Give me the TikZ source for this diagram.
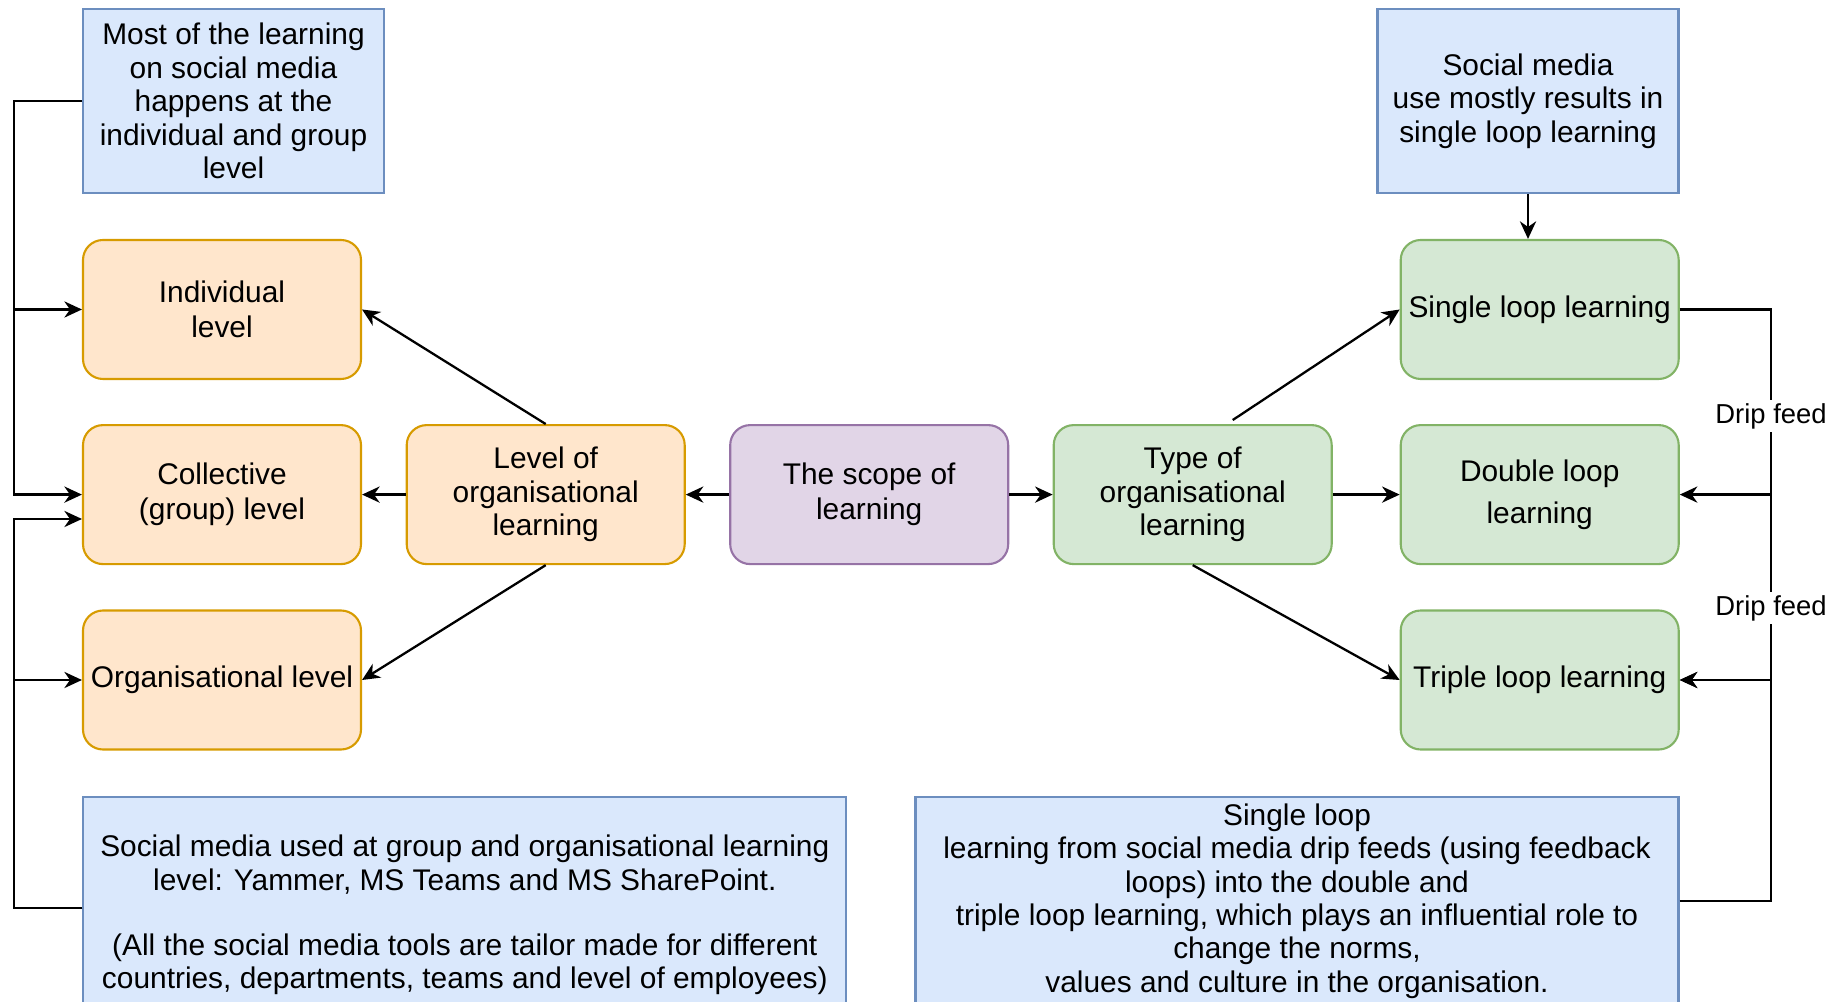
\documentclass[tikz,border=0pt]{standalone}
\usepackage{fontspec}
\setmainfont{Liberation Sans}
\usetikzlibrary{arrows.meta}

\definecolor{NoteFill}{HTML}{DAE8FC}
\definecolor{NoteLine}{HTML}{6C8EBF}
\definecolor{LevelFill}{HTML}{FFE6CC}
\definecolor{LevelLine}{HTML}{D79B00}
\definecolor{ScopeFill}{HTML}{E1D5E7}
\definecolor{ScopeLine}{HTML}{9673A6}
\definecolor{TypeFill}{HTML}{D5E8D4}
\definecolor{TypeLine}{HTML}{82B366}

\begin{document}
\begin{tikzpicture}[x=0.1mm, y=-0.1mm,
  font=\fontsize{8.5pt}{9.5pt}\selectfont,
  note/.style={draw=NoteLine, fill=NoteFill, line width=0.6pt, align=center, inner sep=0pt},
  levelbox/.style={draw=LevelLine, fill=LevelFill, rounded corners=2mm, line width=0.6pt,
    align=center, inner sep=0pt, minimum width=27.8mm, minimum height=13.9mm},
  scopebox/.style={levelbox, draw=ScopeLine, fill=ScopeFill},
  typebox/.style={levelbox, draw=TypeLine, fill=TypeFill},
  dripfeed/.style={fill=white, inner sep=1pt, font=\fontsize{7.8pt}{9pt}\selectfont},
  arr/.style={-{Stealth[length=5pt, width=4.6pt, inset=1.6pt]}, line width=0.65pt}]

 \useasboundingbox (0,0) rectangle (1838,1002);
 \clip (0,0) rectangle (1838,1002);

 %%%%%%%%%% Rails for the side connectors %%%%%%%%%%
 \coordinate (railL) at (14,0);
 \coordinate (railR) at (1771,0);

 %%%%%%%%%% Notes %%%%%%%%%%
 \node[note, minimum width=30.1mm, minimum height=18.4mm] (noteA) at (233.5,101)
   {Most of the learning\\on social media\\happens at the\\individual and group\\level};
 \node[note, minimum width=30.1mm, minimum height=18.4mm] (noteB) at (1528,101)
   {Social media\\use mostly results in\\single loop learning};
 \node[note, minimum width=76.3mm, minimum height=23.6mm] (noteC) at (464.8,915)
   {Social media used at group and organisational learning\\level: Yammer, MS Teams and MS SharePoint.\\[9pt](All the social media tools are tailor made for different\\countries, departments, teams and level of employees)};
 \node[note, minimum width=76.3mm, minimum height=20.8mm] (noteD) at (1297,901)
   {Single loop\\learning from social media drip feeds (using feedback\\loops) into the double and\\triple loop learning, which plays an influential role to\\change the norms,\\values and culture in the organisation.};

 %%%%%%%%%% Levels %%%%%%%%%%
 \node[levelbox] (indiv) at (222,309.5) {Individual\\[0.5pt]level};
 \node[levelbox] (coll) at (222,494.6) {Collective\\[0.5pt](group) level};
 \node[levelbox] (orgl) at (222,680) {Organisational level};
 \node[levelbox] (level) at (545.7,494.6) {Level of\\organisational\\learning};

 % Scope
 \node[scopebox] (scope) at (869.2,494.6) {The scope of\\[0.5pt]learning};

 %%%%%%%%%% Types %%%%%%%%%%
 \node[typebox] (type) at (1192.7,494.6) {Type of\\organisational\\learning};
 \node[typebox] (single) at (1539.7,309.5) {Single loop learning};
 \node[typebox] (double) at (1539.7,494.6) {Double loop\\[2.5pt]learning};
 \node[typebox] (triple) at (1539.7,680) {Triple loop learning};

 %%%%%%%%%% Connectors %%%%%%%%%%
 % left side
 \draw[arr] (noteA.west) -- (noteA.west -| railL) |- (indiv.west);
 \draw[arr] (noteA.west) -- (noteA.west -| railL) |- (coll.west);
 \draw[arr] ([yshift=0.7mm]noteC.west) -- ([yshift=0.7mm]noteC.west -| railL) |- ([yshift=-2.44mm]coll.west);
 \draw[arr] ([yshift=0.7mm]noteC.west) -- ([yshift=0.7mm]noteC.west -| railL) |- (orgl.west);

 % centre
 \draw[arr] (level.north) -- (indiv.east);
 \draw[arr] (level.west) -- (coll.east);
 \draw[arr] (level.south) -- (orgl.east);
 \draw[arr] (scope.west) -- (level.east);
 \draw[arr] (scope.east) -- (type.west);
 \draw[arr] ([xshift=4mm, yshift=0.4mm]type.north) -- (single.west);
 \draw[arr] (type.east) -- (double.west);
 \draw[arr] (type.south) -- (triple.west);
 \draw[arr] (noteB.south) -- (noteB.south |- single.north);

 % right side
 \draw[arr] (single.east) -- (single.east -| railR) |- node[pos=0.403, dripfeed] (drip2) {Drip feed} (triple.east);
 \draw[arr] (single.east) -- (single.east -| railR) |- node[pos=0.288, dripfeed] (drip1) {Drip feed} (double.east);
 \draw[arr] (noteD.east) -- (noteD.east -| railR) |- (triple.east);

\end{tikzpicture}
\end{document}
